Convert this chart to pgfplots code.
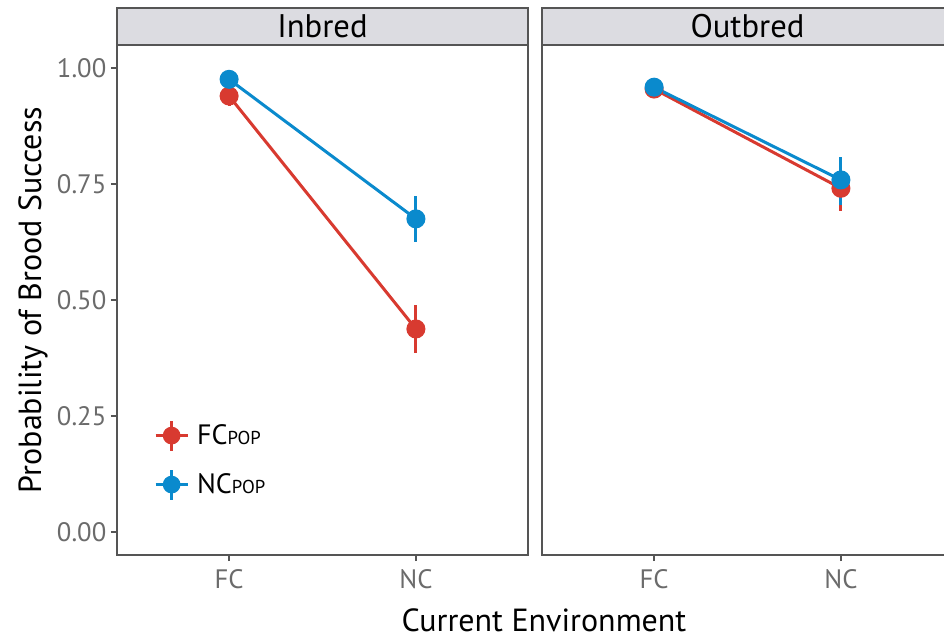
\documentclass[border=0pt]{standalone}
\usepackage{fontspec}
\setmainfont{PT Sans}
\usepackage{pgfplots}
\pgfplotsset{compat=1.18}
\definecolor{fcred}{HTML}{D83A30}
\definecolor{ncblue}{HTML}{0A8ACD}
\definecolor{stripbg}{HTML}{DCDCE1}
\definecolor{frame}{HTML}{555555}
\definecolor{ticktext}{HTML}{6B6B6B}

\pgfplotsset{
  panel/.style={
    scale only axis, width=308.25pt, height=382.5pt,
    xmin=0.4, xmax=2.6, ymin=-0.05, ymax=1.05,
    xtick={1,2}, xticklabels={FC,NC},
    ytick={0,0.25,0.5,0.75,1},
    axis line style={frame, line width=1.5pt},
    tick style={frame, line width=1.2pt},
    tick align=outside, major tick length=4.5pt,
    xtick pos=bottom, ytick pos=left,
    ticklabel style={font=\fontsize{20}{22}\selectfont, text=ticktext},
    xticklabel style={yshift=-3pt},
    clip=false,
  },
  pr/.style={
    color=#1, line width=2.25pt, mark=*, mark size=6pt,
    mark options={solid, draw=none, fill=#1},
    error bars/.cd, y dir=both, y explicit, error mark=none,
    error bar style={line width=2.25pt, #1},
    /pgfplots/.cd,
  },
  leg/.style={legend image code/.code={
    \draw[#1, line width=2.25pt] (0pt,0pt) -- (24pt,0pt);
    \draw[#1, line width=2.25pt] (12pt,-11.25pt) -- (12pt,11.25pt);
    \fill[#1] (12pt,0pt) circle (5.5pt);
  }},
}

\begin{document}
\begin{tikzpicture}
% Inbred
\begin{axis}[panel, name=left,
  yticklabels={0.00,0.25,0.50,0.75,1.00},
  legend style={draw=none, fill=none, at={(rel axis cs:0.08,0.1)}, anchor=south west,
    font=\fontsize{21}{22}\selectfont, row sep=12pt, cells={anchor=west}},
]
\addplot[leg=fcred, pr=fcred] table[x=x, y=y, y error plus=ep, y error minus=em] {
x y ep em
1 0.940 0.022 0.022
2 0.4375 0.051 0.052
};
\addlegendentry{\hspace{4pt}FC{\fontsize{14}{16}\selectfont POP}}
\addplot[leg=ncblue, pr=ncblue] table[x=x, y=y, y error plus=ep, y error minus=em] {
x y ep em
1 0.976 0.010 0.010
2 0.675 0.049 0.050
};
\addlegendentry{\hspace{4pt}NC{\fontsize{14}{16}\selectfont POP}}
\draw[frame, line width=1.5pt, fill=stripbg] (rel axis cs:0,1) rectangle ([yshift=27.75pt]rel axis cs:1,1);
\node[font=\fontsize{24.5}{26}\selectfont] at ([yshift=13.9pt]rel axis cs:0.5,1) {Inbred};
\end{axis}
% Outbred
\begin{axis}[panel, xshift=318.75pt,
  yticklabels={}, ytick style={draw=none},
]
\addplot[pr=fcred] table[x=x, y=y, y error plus=ep, y error minus=em] {
x y ep em
1 0.955 0.012 0.012
2 0.741 0.045 0.050
};
\addplot[pr=ncblue] table[x=x, y=y, y error plus=ep, y error minus=em] {
x y ep em
1 0.959 0.010 0.010
2 0.759 0.050 0.054
};
\draw[frame, line width=1.5pt, fill=stripbg] (rel axis cs:0,1) rectangle ([yshift=27.75pt]rel axis cs:1,1);
\node[font=\fontsize{24.5}{26}\selectfont] at ([yshift=13.9pt]rel axis cs:0.5,1) {Outbred};
\end{axis}
\node[rotate=90, font=\fontsize{24}{26}\selectfont] at (-63pt,191.25pt) {Probability of Brood Success};
\node[font=\fontsize{24}{26}\selectfont] at (320.25pt,-48.75pt) {Current Environment};
\pgfresetboundingbox
\path (-87.75pt,-63.75pt) rectangle (620.25pt,416.25pt);
\end{tikzpicture}
\end{document}
